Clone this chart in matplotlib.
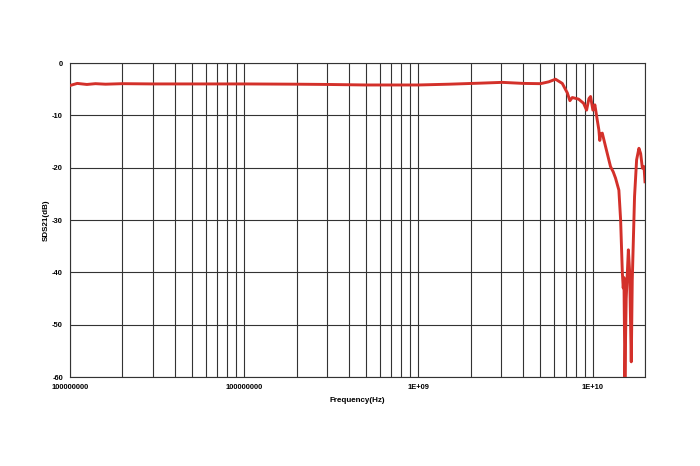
import numpy as np
import matplotlib
matplotlib.use("Agg")
import matplotlib.pyplot as plt

# Frequenza (Hz) e SDS21 (dB)
freq = [1.0e7, 1.1e7, 1.25e7, 1.4e7, 1.6e7, 2.0e7, 3.0e7, 5.0e7, 1.0e8, 2.0e8, 3.0e8,
        5.0e8, 1.0e9, 1.5e9, 2.27e9, 3.03e9, 4.01e9, 5.02e9, 5.6e9, 6.13e9, 6.7e9,
        7.16e9, 7.41e9, 7.65e9, 8.31e9, 8.88e9, 9.24e9, 9.53e9, 9.74e9, 1.004e10,
        1.031e10, 1.064e10, 1.087e10, 1.1e10, 1.112e10, 1.137e10, 1.188e10, 1.268e10,
        1.314e10, 1.355e10, 1.416e10, 1.449e10, 1.482e10, 1.50e10, 1.514e10, 1.534e10,
        1.56e10, 1.605e10, 1.633e10, 1.668e10, 1.69e10, 1.742e10, 1.79e10, 1.846e10,
        1.888e10, 1.932e10, 1.974e10, 2.0e10]
sds21 = [-4.3, -3.9, -4.1, -3.95, -4.05, -3.95, -4.0, -4.0, -4.0, -4.05, -4.1,
         -4.2, -4.2, -4.05, -3.85, -3.7, -3.9, -3.95, -3.6, -3.1, -3.9,
         -5.7, -7.2, -6.6, -6.9, -7.7, -9.0, -6.8, -6.4, -9.0,
         -8.0, -10.9, -12.8, -14.8, -13.6, -13.4, -16.0, -19.8,
         -20.8, -22.0, -24.3, -30.0, -40.0, -43.0, -41.0, -60.0,
         -45.0, -35.7, -40.0, -57.1, -41.5, -25.5, -18.5, -16.3,
         -17.3, -20.1, -19.8, -22.7]

yticks = [0, -10, -20, -30, -40, -50, -60]
xticks = [1e7, 1e8, 1e9, 1e10]
xticklabels = ["100000000", "100000000", "1E+09", "1E+10"]

plt.rcParams['font.family'] = ['Liberation Sans', 'DejaVu Sans']

fig = plt.figure(figsize=(7, 4.66), dpi=100)
ax = fig.add_axes([70/700, 1 - 377/466, 575/700, 314/466])

ax.plot(freq, sds21, color="#d3302a", lw=2.1, solid_joinstyle="round", zorder=3)

ax.set_xscale("log")
ax.set_xlim(1e7, 2e10)
ax.set_ylim(-60, 0)

ax.set_xticks(xticks)
ax.set_xticklabels(xticklabels, fontsize=5.4, fontweight="bold")
ax.set_xticks([m * 10**e for e in range(7, 11) for m in range(2, 10) if m * 10**e <= 2e10],
              minor=True)
ax.xaxis.set_minor_formatter(matplotlib.ticker.NullFormatter())
ax.set_yticks(yticks)
ax.set_yticklabels([str(v) for v in yticks], fontsize=5.4, fontweight="bold")

ax.tick_params(which="both", length=0, pad=5)
ax.grid(True, which="both", axis="x", color="#333333", lw=0.8)
ax.grid(True, which="major", axis="y", color="#333333", lw=0.8)

for s in ax.spines.values():
    s.set_color("#333333")
    s.set_linewidth(0.8)

ax.set_xlabel("Frequency(Hz)", fontsize=5.8, fontweight="bold", labelpad=4)
ax.set_ylabel("SDS21(dB)", fontsize=5.8, fontweight="bold", labelpad=2)

fig.savefig("out.png", dpi=100)
